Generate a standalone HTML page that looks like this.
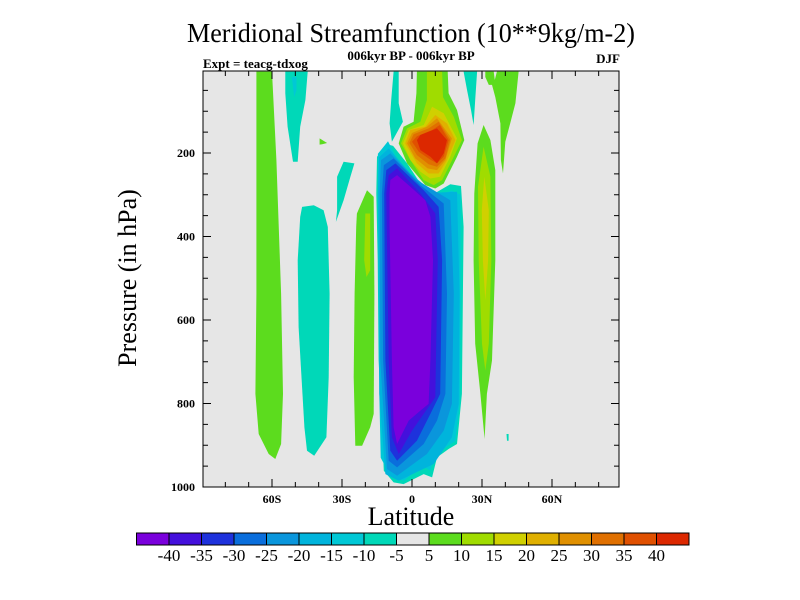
<!DOCTYPE html>
<html><head><meta charset="utf-8"><style>
body{margin:0;background:#fff;}
svg{display:block;font-family:"Liberation Serif",serif;}
</style></head><body>
<svg id="chart" width="800" height="600" viewBox="0 0 800 600" xmlns="http://www.w3.org/2000/svg">
<text x="411" y="42" font-size="27" text-anchor="middle" textLength="448" lengthAdjust="spacingAndGlyphs">Meridional Streamfunction (10**9kg/m-2)</text>
<text x="411" y="60" font-size="13" font-weight="bold" text-anchor="middle">006kyr BP - 006kyr BP</text>
<text x="203" y="68" font-size="13" font-weight="bold">Expt = teacg-tdxog</text>
<text x="620" y="63" font-size="13" font-weight="bold" text-anchor="end">DJF</text>
<rect x="203" y="71" width="416" height="416" fill="#e6e6e6"/>
<g id="fills"></g>
<rect x="203" y="71" width="416" height="416" fill="none" stroke="#000" stroke-width="1"/>
<g id="axes"></g>
<text transform="translate(136,278) rotate(-90)" font-size="26" text-anchor="middle">Pressure (in hPa)</text>
<text x="411" y="525" font-size="26" text-anchor="middle">Latitude</text>
<g id="colorbar"></g>
</svg>
<script>
const levelColors=["#7a00dc","#4410dc","#1e32dc","#0a6edc","#0a96dc","#00b4dc","#00c8d6","#00d8b8","#e6e6e6","#5cdc1e","#a0dc00","#d0d000","#e0b000","#e09000","#e07000","#e05000","#dc2800"];
const levelLabels=["-40","-35","-30","-25","-20","-15","-10","-5","5","10","15","20","25","30","35","40"];
const latTicks=[-60,-30,0,30,60];
const latTickLabels=["60S","30S","0","30N","60N"];
const presTicks=[200,400,600,800,1000];
// contour regions: [colorIndex, [[lat,p],...]]
const regions=[
[9,[[-66.7,5],[-60,5],[-58.1,217],[-56.1,537],[-55.3,777],[-56.1,897],[-58.6,933],[-61.4,921],[-65.7,873],[-67.1,777],[-66.7,537],[-66.7,297]]],
[7,[[-54.3,5],[-44.7,5],[-45.7,73],[-47.9,137],[-49,221],[-51,221],[-53.3,137],[-54.3,57]]],
[6,[[-51.5,18],[-49.5,18],[-49.5,50],[-50.5,66]]],
[7,[[-47.1,329],[-42.1,325],[-37.9,337],[-36.1,377],[-35.3,537],[-35.7,737],[-36.7,881],[-41.9,925],[-45,913],[-46.1,857],[-48.6,617],[-49,457],[-47.9,353]]],
[9,[[-39.6,165],[-36.4,176],[-38.5,179],[-39.6,180]]],
[7,[[-29.3,221],[-24.7,225],[-26.4,257],[-29.3,313],[-32.6,365],[-32.1,337],[-32.1,257]]],
[9,[[-23.6,345],[-19.3,289],[-16.4,305],[-16.1,537],[-16.4,825],[-17.9,857],[-21.4,901],[-24.3,901],[-25,737],[-24.6,537],[-23.9,377]]],
[10,[[-20,345],[-17.9,345],[-17.9,481],[-19.5,497],[-20.5,457]]],
[7,[[-7.9,5],[-5.7,5],[-5.7,81],[-3.9,125],[-8.6,173],[-9.6,129],[-8.9,73]]],
// negative cell
[7,[[-15,209],[-10.7,179],[-8.1,183],[-2.1,225],[3.6,273],[9.3,298],[16.4,275],[21,279],[22.1,377],[21.4,777],[19.3,897],[15.7,909],[10.7,929],[8.6,977],[5,969],[-3.6,993],[-7.9,989],[-12.1,961],[-12.9,857],[-14.3,697],[-14.7,457],[-15.3,297]]],
[6,[[-14.6,202],[-10.3,172],[-4.5,235],[5,290],[10,305],[17,290],[20.8,300],[20.8,560],[20.5,800],[18.5,890],[14.5,905],[9.5,925],[7.8,960],[4.5,950],[-3.6,985],[-9.5,970],[-13.4,930],[-14,777],[-14.2,457],[-14.6,297]]],
[5,[[-14.1,210],[-10,189],[-0.7,249],[9.3,295],[19.3,293],[20.4,537],[20,801],[17.1,881],[9.3,945],[-5.7,985],[-11.4,969],[-14,777],[-14.6,297]]],
[4,[[-13.3,217],[-9.3,201],[2.1,265],[16.4,313],[17.9,537],[17.1,801],[13.6,865],[6.4,921],[-6.4,973],[-10.7,957],[-13.6,697],[-13.9,297]]],
[3,[[-12.1,229],[-7.9,213],[3.6,277],[13.6,321],[15,537],[14.3,777],[10.7,841],[5,897],[-6.4,953],[-10,937],[-12.4,697],[-12.9,297]]],
[2,[[-11,241],[-7.1,225],[5,289],[11.4,329],[12.9,457],[12.1,777],[7.9,825],[2.1,889],[-6.4,937],[-9.3,913],[-11.4,697],[-11.9,297]]],
[1,[[-10,253],[-6.4,237],[3.6,297],[10,345],[11,457],[10,785],[5,825],[0,865],[-5.7,921],[-8.6,881],[-10,697],[-11,297]]],
[0,[[-9.3,265],[-6.4,253],[-0.7,281],[5.7,313],[7.9,353],[9,457],[7.9,697],[7.1,801],[3.6,817],[-1.4,841],[-6.4,897],[-7.9,857],[-8.6,697],[-9.6,377],[-9.6,297]]],
// positive cell
[9,[[2.1,5],[15.3,5],[15.7,57],[19.3,97],[22.4,169],[19.3,209],[13.6,273],[10,285],[5.7,277],[2.1,253],[-2.1,225],[-5.7,177],[-3.6,137],[0.7,125],[1.9,57]]],
[10,[[6.4,5],[12.9,5],[13.3,66],[17.9,113],[21.4,169],[17.9,209],[12.9,265],[9.3,277],[5,265],[-0.7,217],[-4.7,177],[-2.1,141],[3.6,125],[6.4,73]]],
[11,[[8.6,89],[13.6,105],[19.3,165],[16.4,209],[12.1,257],[7.9,261],[3.6,245],[-0.7,217],[-3.9,177],[-1.4,145],[5,133]]],
[12,[[10,109],[15,129],[18.6,169],[15,217],[11.4,249],[7.1,249],[2.1,225],[-2.9,177],[-0.7,145],[5.7,137]]],
[13,[[10.7,117],[17.1,165],[14.3,217],[10.7,241],[6.7,237],[1.4,213],[-2.1,177],[0,152],[6.4,137]]],
[14,[[11.4,125],[16.4,168],[14.3,213],[10.7,233],[7.1,227],[2.1,205],[-1.1,176],[0.7,155],[7.1,141]]],
[15,[[11.9,133],[15.7,169],[13.6,209],[10.7,225],[7.6,215],[2.9,197],[0,173],[2.1,160],[8.6,145]]],
[16,[[3.6,157],[10.7,141],[15,169],[13.6,201],[10.7,225],[7.9,209],[3.6,193],[2.1,169]]],
// right side
[7,[[22.1,5],[27.9,5],[27.1,73],[26.4,133],[25.3,97],[23.6,50]]],
[9,[[36.4,5],[45.7,5],[44.3,81],[42.1,129],[40,173],[39,249],[38.1,217],[37.9,129],[35.7,66],[34.3,37],[32.9,37],[31.4,18],[31.4,5],[35,5],[35.5,25]]],
[9,[[30.7,133],[33.6,169],[35.7,241],[35.7,457],[34.3,697],[32.1,777],[31.1,885],[29.3,777],[27.1,657],[26.4,457],[26.7,297],[28.1,177]]],
[10,[[30.7,185],[33.6,257],[34,457],[32.9,657],[31.4,721],[30,657],[28.6,457],[28.3,281]]],
[11,[[31,257],[32.9,337],[32.6,457],[31.4,553],[30.4,457],[29.9,337]]],
[7,[[40.5,873],[41.4,873],[41.4,889],[40.7,889]]]
];
const NS="http://www.w3.org/2000/svg";
function xs(lat){return 412+lat*2.3333;}
function ys(p){return 69.5+p*0.4175;}
function mk(tag,attrs,parent){const e=document.createElementNS(NS,tag);for(const k in attrs)e.setAttribute(k,attrs[k]);parent.appendChild(e);return e;}
const fills=document.getElementById('fills');
regions.forEach((r,i)=>{
  const pts=r[1].map(v=>xs(v[0]).toFixed(1)+','+Math.max(71,ys(v[1])).toFixed(1)).join(' ');
  const e=mk('polygon',{points:pts,fill:levelColors[r[0]]},fills);
  
  
});
const axes=document.getElementById('axes');
for(let lat=-80;lat<=80;lat+=10){
  const x=xs(lat),major=lat%30===0,len=major?8:5;
  const t1=mk('line',{x1:x,x2:x,y1:487,y2:487-len,stroke:'#000'},axes);
  
  
  const t2=mk('line',{x1:x,x2:x,y1:71,y2:71+len,stroke:'#000'},axes);
  
  
}
latTicks.forEach((lat,i)=>{
  const t=mk('text',{x:xs(lat),y:503,'font-size':12,'font-weight':'bold','text-anchor':'middle'},axes);
  t.textContent=latTickLabels[i];
  
  
});
for(let p=50;p<=1000;p+=50){
  const y=ys(p),major=p%200===0,len=major?8:5;
  const t1=mk('line',{x1:203,x2:203+len,y1:y,y2:y,stroke:'#000'},axes);
  
  
  const t2=mk('line',{x1:619,x2:619-len,y1:y,y2:y,stroke:'#000'},axes);
  
  
}
presTicks.forEach(p=>{
  const t=mk('text',{x:195,y:ys(p)+4,'font-size':12,'font-weight':'bold','text-anchor':'end'},axes);
  t.textContent=String(p);
  
  
});
const cb=document.getElementById('colorbar');
const cbX=136.5,cbW=(689-136.5)/levelColors.length;
levelColors.forEach((c,i)=>{
  const r=mk('rect',{x:cbX+i*cbW,y:533,width:cbW,height:12,fill:c,stroke:'#000','stroke-width':1},cb);
  
  
});
levelLabels.forEach((l,i)=>{
  const t=mk('text',{x:cbX+(i+1)*cbW,y:561,'font-size':17,'text-anchor':'middle'},cb);
  t.textContent=l;
  
  
});
</script>
</body></html>
